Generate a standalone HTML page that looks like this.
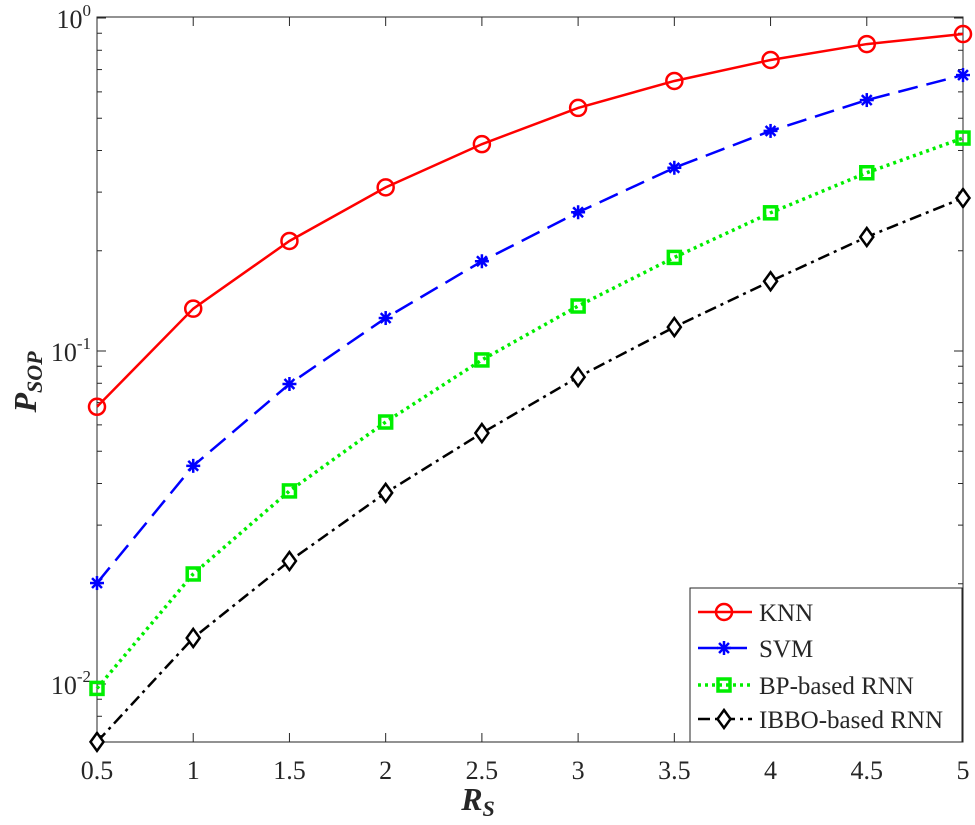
<!DOCTYPE html>
<html><head><meta charset="utf-8"><style>
body{margin:0;background:#fff}
svg text{font-family:"Liberation Serif",serif;fill:#262626}
</style></head><body>
<svg width="975" height="820" viewBox="0 0 975 820">
<g id="axes"></g>
<g id="series"></g>
<g id="legend"></g>
<text x="478" y="810" text-anchor="middle" font-size="32" font-weight="bold" font-style="italic">R<tspan font-size="22" dy="6">S</tspan></text>
<text transform="translate(36,382) rotate(-90)" text-anchor="middle" font-size="32" font-weight="bold" font-style="italic">P<tspan font-size="22" dy="6">SOP</tspan></text>
</svg>
<script>
const xValues=[0.5,1,1.5,2,2.5,3,3.5,4,4.5,5];
const knn=[0.068,0.134,0.214,0.31,0.418,0.537,0.647,0.748,0.835,0.895];
const svm=[0.0201,0.0452,0.0796,0.1256,0.186,0.261,0.355,0.458,0.567,0.674];
const bp=[0.0097,0.0214,0.038,0.0612,0.094,0.1365,0.191,0.26,0.343,0.436];
const ibbo=[0.0067,0.01375,0.0234,0.0375,0.0567,0.0835,0.118,0.162,0.22,0.288];
const xTicks=["0.5","1","1.5","2","2.5","3","3.5","4","4.5","5"];
const yTickExps=[0,-1,-2];
const names=["KNN","SVM","BP-based RNN","IBBO-based RNN"];
const NS="http://www.w3.org/2000/svg";
const L=97,R=963,T=17,B=742;
const X=v=>L+(v-0.5)/4.5*(R-L);
const Y=v=>18-Math.log10(v)*333;
function mk(tag,attrs,parent){const e=document.createElementNS(NS,tag);for(const k in attrs)e.setAttribute(k,attrs[k]);parent.appendChild(e);return e;}
const ax=document.getElementById('axes');
const frame=mk('rect',{x:L,y:T,width:R-L,height:B-T,fill:'none',stroke:'#262626','stroke-width':1},ax);


xValues.forEach((v,i)=>{
  const x=X(v);
  mk('line',{x1:x,x2:x,y1:B,y2:B-9,stroke:'#262626'},ax);
  mk('line',{x1:x,x2:x,y1:T,y2:T+9,stroke:'#262626'},ax);
  const t=mk('text',{x:x,y:B+37,'text-anchor':'middle','font-size':26},ax);
  t.textContent=xTicks[i];
  
  
});
for(let e=-3;e<=0;e++){for(let m=1;m<10;m++){const v=m*Math.pow(10,e);const y=Y(v);if(y<T-0.5||y>B+0.5)continue;const len=m===1?9:5;
  mk('line',{x1:L,x2:L+len,y1:y,y2:y,stroke:'#262626'},ax);
  mk('line',{x1:R,x2:R-len,y1:y,y2:y,stroke:'#262626'},ax);}}
yTickExps.forEach(e=>{
  const t=mk('text',{x:L-6,y:Y(Math.pow(10,e))+10,'text-anchor':'end','font-size':26},ax);
  t.innerHTML='10<tspan font-size="17" dy="-12">'+e+'</tspan>';
  
  
});
const styles=[
 {c:'#ff0000',dash:'',m:'circle'},
 {c:'#0000ff',dash:'20,9',m:'star'},
 {c:'#00ee00',dash:'3,4',m:'square',w:3.5},
 {c:'#000000',dash:'12,5,3,5',m:'diamond'}];
function marker(g,m,x,y,c){
  if(m==='circle')mk('circle',{cx:x,cy:y,r:8,fill:'none',stroke:c,'stroke-width':2.5},g);
  if(m==='square')mk('rect',{x:x-6,y:y-6,width:12,height:12,fill:'none',stroke:c,'stroke-width':3.5},g);
  if(m==='diamond')mk('path',{d:`M${x} ${y-9}L${x+6.5} ${y}L${x} ${y+9}L${x-6.5} ${y}Z`,fill:'#fff',stroke:c,'stroke-width':2.5},g);
  if(m==='star'){for(let a=0;a<4;a++){const an=a*Math.PI/4;mk('line',{x1:x-7*Math.cos(an),y1:y-7*Math.sin(an),x2:x+7*Math.cos(an),y2:y+7*Math.sin(an),stroke:c,'stroke-width':2.5},g);}}
}
const sg=document.getElementById('series');
[knn,svm,bp,ibbo].forEach((d,i)=>{
  const s=styles[i];
  const g=mk('g',{},sg);
  
  
  const pts=d.map((v,j)=>X(xValues[j])+','+Y(v)).join(' ');
  mk('polyline',{points:pts,fill:'none',stroke:s.c,'stroke-width':s.w||2.5,'stroke-dasharray':s.dash},g);
  d.forEach((v,j)=>marker(g,s.m,X(xValues[j]),Y(v),s.c));
});
const lg=document.getElementById('legend');
const lb=mk('rect',{x:690,y:588,width:272,height:154,fill:'#fff',stroke:'#262626'},lg);


const ly=[612,648,685,719];
names.forEach((n,i)=>{
  const s=styles[i];
  const g=mk('g',{},lg);
  
  
  mk('line',{x1:698,x2:752,y1:ly[i],y2:ly[i],stroke:s.c,'stroke-width':s.w||2.5,'stroke-dasharray':s.dash},g);
  marker(g,s.m,724,ly[i],s.c);
  const t=mk('text',{x:759,y:ly[i]+9,'font-size':25,fill:'#000'},g);
  t.textContent=n;
});
</script>
</body></html>
